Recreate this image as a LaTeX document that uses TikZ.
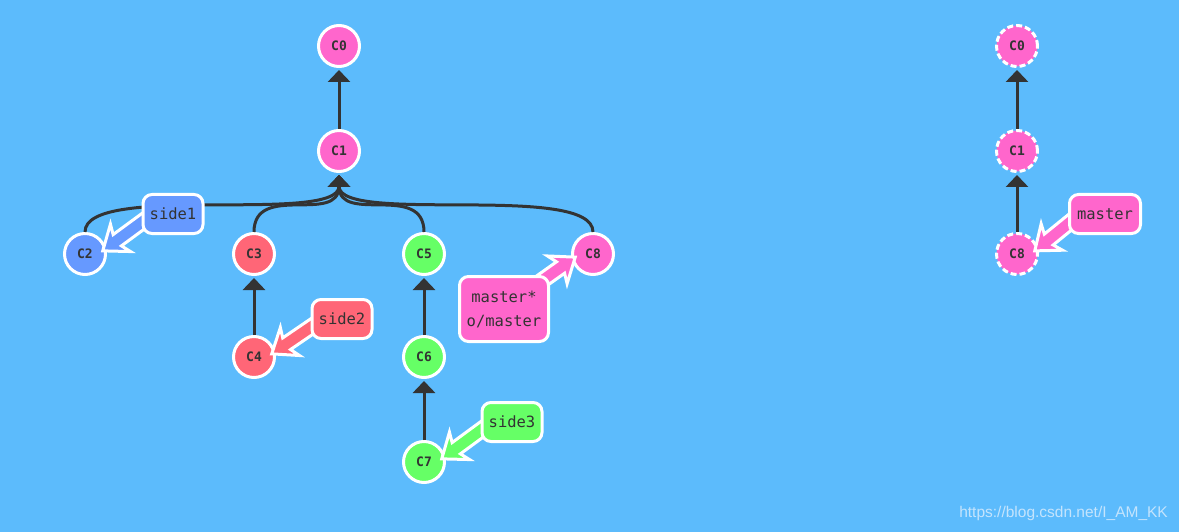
\documentclass[tikz,border=0pt]{standalone}
\usepackage{fontspec}
\setmonofont{DejaVu Sans Mono}
\newfontfamily\wmfont{Liberation Sans}
\usetikzlibrary{arrows.meta,calc}
\definecolor{gitbg}{HTML}{5CBBFC}
\definecolor{gitpink}{HTML}{FF66CC}
\definecolor{gitblue}{HTML}{6699FF}
\definecolor{gitred}{HTML}{FF6677}
\definecolor{gitgreen}{HTML}{66FF66}
\definecolor{gitedge}{HTML}{333333}
\definecolor{wmcol}{HTML}{C4E4FC}
\pgfdeclarelayer{bg}
\pgfdeclarelayer{top}
\pgfsetlayers{bg,main,top}

% fat pointer from a point on a branch box to its commit (#3 = angle where it hits)
\newcommand{\branchptr}[4]{%
  \coordinate (tip) at ($(#2)!0.82!(#2.#3)$);
  \coordinate (barb) at ($(tip)!22pt!(#1)$);
  \coordinate (neck) at ($(tip)!18pt!(#1)$);
  \coordinate (tail) at ($(tip)!1.5!(#1)$);
  \path[fill=#4, draw=white, line width=3pt, miter limit=4] (tip) -- ($(barb)!17pt!90:(tip)$) -- ($(neck)!7pt!90:(tip)$)
    -- ($(tail)!7pt!90:(tip)$) -- ($(tail)!7pt!-90:(tip)$) -- ($(neck)!7pt!-90:(tip)$) -- ($(barb)!17pt!-90:(tip)$) -- cycle;}
% child commit to parent commit
\newcommand{\parentedge}[2]{%
  \draw[edge] (#1.north) .. controls +(0,-50) and +(0,50) .. ($(#2)+(0,24)$);}

\begin{document}
\begin{tikzpicture}[x=1pt,y=-1pt,
    commit/.style={circle, draw=white, line width=3pt, minimum size=41pt, inner sep=0pt,
      text=gitedge, font=\ttfamily\bfseries\fontsize{13}{14}\selectfont},
    ghost/.style={commit, dash pattern=on 6pt off 3pt},
    branch/.style={rectangle, rounded corners=9pt, draw=white, line width=3pt, inner sep=0pt,
      minimum width=60pt, minimum height=39pt, align=center, text=gitedge,
      font=\ttfamily\fontsize{15.5}{24}\selectfont},
    edge/.style={gitedge, line width=3pt, -{Triangle[length=12pt,width=22pt]}}]
  \begin{pgfonlayer}{bg}
    \fill[gitbg] (0,0) rectangle (1179,532);
  \end{pgfonlayer}

  % left graph
  \node[commit, fill=gitpink] (C0) at (339,46) {C0};
  \node[commit, fill=gitpink] (C1) at (339,151) {C1};
  \node[commit, fill=gitblue] (C2) at (85,254) {C2};
  \node[commit, fill=gitred] (C3) at (254,254) {C3};
  \node[commit, fill=gitred] (C4) at (254,357) {C4};
  \node[commit, fill=gitgreen] (C5) at (424,254) {C5};
  \node[commit, fill=gitgreen] (C6) at (424,357) {C6};
  \node[commit, fill=gitgreen] (C7) at (424,462) {C7};
  \node[commit, fill=gitpink] (C8) at (593,254) {C8};

  \parentedge{C1}{C0}
  \parentedge{C2}{C1}
  \parentedge{C3}{C1}
  \parentedge{C5}{C1}
  \parentedge{C8}{C1}
  \parentedge{C4}{C3}
  \parentedge{C6}{C5}
  \parentedge{C7}{C6}

  % right graph
  \node[ghost, fill=gitpink] (R0) at (1017,46) {C0};
  \node[ghost, fill=gitpink] (R1) at (1017,151) {C1};
  \node[ghost, fill=gitpink] (R8) at (1017,254) {C8};
  \parentedge{R1}{R0}
  \parentedge{R8}{R1}

  % branches
  \begin{pgfonlayer}{top}
    \node[branch, fill=gitblue] (side1) at (173,214) {side1};
    \node[branch, fill=gitred] (side2) at (342,319) {side2};
    \node[branch, fill=gitgreen] (side3) at (512,422) {side3};
    \node[branch, fill=gitpink, minimum width=89pt, minimum height=65pt] (master) at (504,309) {master*\\o/master};
    \node[branch, fill=gitpink, minimum width=71pt] (rmaster) at (1105,214) {master};
  \end{pgfonlayer}
  \branchptr{side1.195}{C2}{10}{gitblue}
  \branchptr{side2.195}{C4}{10}{gitred}
  \branchptr{side3.195}{C7}{10}{gitgreen}
  \branchptr{master.north east}{C8}{190}{gitpink}
  \branchptr{rmaster.195}{R8}{10}{gitpink}

  \node[anchor=east, inner sep=0pt, text=wmcol, font=\wmfont\fontsize{15.5}{17}\selectfont] (wm) at (1168,513) {https://blog.csdn.net/I\_AM\_KK};
\end{tikzpicture}
\end{document}
